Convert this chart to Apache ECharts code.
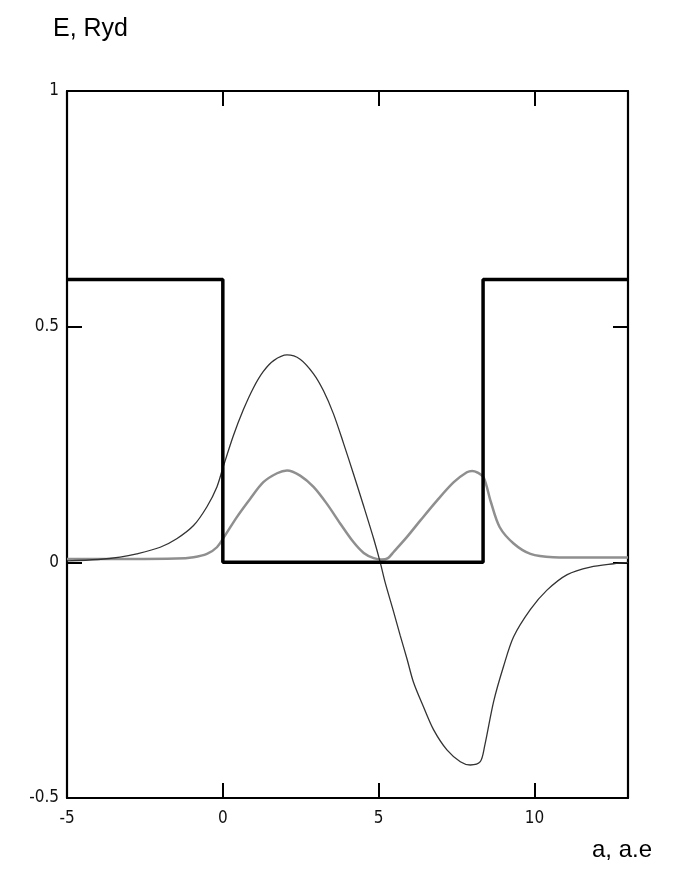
<!DOCTYPE html>
<html>
<head>
<meta charset="utf-8">
<script src="https://cdn.jsdelivr.net/npm/echarts@6/dist/echarts.min.js"></script>
<style>
html,body{margin:0;padding:0;background:#fff;}
#chart{width:697px;height:883px;}
</style>
</head>
<body>
<div id="chart"></div>
<script>
// Potential well (E, Ryd) vs coordinate (a, a.e)
const potentialX = [-5, 0, 0, 8.35, 8.35, 13];
const potentialY = [0.6, 0.6, 0, 0, 0.6, 0.6];

// Wavefunction (thin dark curve)
const psiX = [-5, -4, -3.3, -2.76, -2.01, -1.48, -0.94, -0.51, -0.19, 0, 0.34, 0.66, 0.98, 1.3, 1.63, 2.06, 2.48, 2.91, 3.23, 3.55, 3.87, 4.19, 4.52, 4.84, 5.05, 5.21, 5.48, 5.69, 5.91, 6.12, 6.44, 6.76, 7.19, 7.62, 7.94, 8.26, 8.4, 8.69, 9.01, 9.33, 9.87, 10.4, 11.05, 11.79, 12.54, 13];
const psiY = [0.003, 0.006, 0.011, 0.018, 0.032, 0.05, 0.078, 0.118, 0.16, 0.2, 0.269, 0.324, 0.37, 0.405, 0.428, 0.44, 0.431, 0.40, 0.364, 0.315, 0.253, 0.188, 0.119, 0.05, 0.0, -0.043, -0.105, -0.155, -0.205, -0.255, -0.307, -0.355, -0.398, -0.423, -0.43, -0.423, -0.39, -0.295, -0.22, -0.158, -0.1, -0.059, -0.026, -0.01, -0.003, 0.0];

// Probability density (gray curve)
const densX = [-5, -3, -1.5, -0.94, -0.51, -0.19, 0.08, 0.45, 0.88, 1.3, 1.74, 2.06, 2.48, 2.91, 3.34, 3.77, 4.19, 4.52, 4.84, 5.1, 5.3, 5.48, 5.91, 6.34, 6.87, 7.41, 7.83, 8.0, 8.16, 8.37, 8.6, 8.88, 9.33, 9.87, 10.6, 11.7, 13];
const densY = [0.007, 0.007, 0.008, 0.011, 0.018, 0.032, 0.058, 0.096, 0.135, 0.17, 0.189, 0.195, 0.184, 0.16, 0.124, 0.082, 0.043, 0.02, 0.009, 0.006, 0.009, 0.022, 0.054, 0.089, 0.131, 0.17, 0.191, 0.194, 0.191, 0.18, 0.128, 0.075, 0.04, 0.018, 0.011, 0.01, 0.01];

const yTitle = 'E, Ryd';
const xTitle = 'a, a.e';

const zip = (xs, ys) => xs.map((x, i) => [x, ys[i]]);
const labelFont = {fontFamily: '"DejaVu Sans Condensed", "DejaVu Sans", sans-serif', fontSize: 17, color: '#111'};
const axisLine = {show: true, onZero: false, lineStyle: {color: '#000', width: 2.2}};
const tick = {show: true, inside: true, length: 15, lineStyle: {color: '#000', width: 2}};

const chart = echarts.init(document.getElementById('chart'), null, {renderer: 'canvas'});
chart.setOption({
  animation: false,
  backgroundColor: '#fff',
  grid: {left: 67, right: 69, top: 91, bottom: 85, containLabel: false},
  xAxis: [
    {type: 'value', min: -5, max: 13, interval: 5, position: 'bottom',
     axisLine: axisLine, axisTick: tick, splitLine: {show: false},
     axisLabel: Object.assign({margin: 12, showMaxLabel: false}, labelFont)},
    {type: 'value', min: -5, max: 13, interval: 5, position: 'top',
     axisLine: axisLine, axisTick: tick, splitLine: {show: false}, axisLabel: {show: false}}
  ],
  yAxis: [
    {type: 'value', min: -0.5, max: 1, interval: 0.5, position: 'left',
     axisLine: axisLine, axisTick: tick, splitLine: {show: false},
     axisLabel: Object.assign({margin: 8}, labelFont)},
    {type: 'value', min: -0.5, max: 1, interval: 0.5, position: 'right',
     axisLine: axisLine, axisTick: tick, splitLine: {show: false}, axisLabel: {show: false}}
  ],
  series: [
    {type: 'line', name: 'density', data: zip(densX, densY), showSymbol: false, smooth: 0.3,
     lineStyle: {color: '#8f8f8f', width: 2.5}, z: 2},
    {type: 'line', name: 'psi', data: zip(psiX, psiY), showSymbol: false, smooth: 0.3,
     lineStyle: {color: '#333', width: 1.3}, z: 3},
    {type: 'line', name: 'potential', data: zip(potentialX, potentialY), showSymbol: false,
     lineStyle: {color: '#000', width: 3.5}, z: 4}
  ],
  graphic: [
    {type: 'text', left: 53, top: 17, style: {text: yTitle, font: '25px "Liberation Sans", Arial, sans-serif', fill: '#000'}},
    {type: 'text', left: 592, top: 838, style: {text: xTitle, font: '24px "Liberation Sans", Arial, sans-serif', fill: '#000'}}
  ]
});
</script>
</body>
</html>
